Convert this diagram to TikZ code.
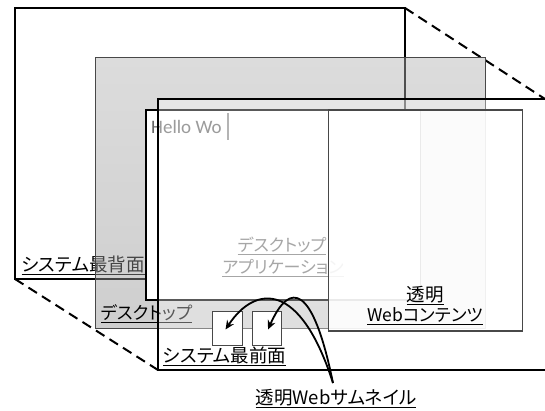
\documentclass[tikz,border=0pt]{standalone}
\usepackage{fontspec}
\setmainfont{Noto Sans CJK JP}[RawFeature=+palt]
\newfontfamily\hellofont{Carlito}
\usetikzlibrary{arrows.meta}
\definecolor{appgray}{HTML}{777777}
\definecolor{hellogray}{HTML}{666666}
\definecolor{edgegray}{HTML}{484848}
\newcommand\ulx[1]{\setbox0=\hbox{#1}\rlap{\rule[-3.8pt]{\wd0}{1.2pt}}\box0}
\begin{document}
\begin{tikzpicture}[x=1pt,y=-1pt,
  lbl/.style={anchor=base west,inner sep=0pt,font=\fontsize{18.5}{21}\selectfont},
  clbl/.style={anchor=base,inner sep=0pt,font=\fontsize{18.5}{21}\selectfont},
  layeredge/.style={line width=1.2pt,draw=black},
  dashline/.style={line width=2pt,dash pattern=on 10pt off 6pt},
  thumb/.style={draw=edgegray,line width=1pt,fill=white,minimum width=29.5pt,minimum height=33.5pt,inner sep=0pt},
  curvearrow/.style={line width=1.8pt,-{Stealth[length=9pt,width=8pt]}}]
\useasboundingbox (0,0) rectangle (545,410);
\fill[white] (0,0) rectangle (545,410);
% back layer
\draw[layeredge,fill=white] (15,8) rectangle (405,279);
\node[lbl] (backlbl) at (21.5,271) {\ulx{システム最背面}};
% dashed connectors
\coordinate (bk1) at (405,8);
\coordinate (fr1) at (545,99);
\coordinate (bk2) at (15,279);
\coordinate (fr2) at (158,370);
\draw[dashline] (bk1) -- (fr1);
\draw[dashline] (bk2) -- (fr2);
% desktop layer
\draw[draw=edgegray,line width=1pt,top color=black!30,bottom color=black!42,fill opacity=0.45] (95.5,57.5) rectangle (485,328);
\node[lbl,font=\fontsize{17.5}{20}\selectfont] (desklbl) at (101,319.5) {\ulx{デスクトップ}};
% desktop application window
\draw[layeredge,fill=white] (146,110) rectangle (420.5,300);
\node[anchor=base west,inner sep=0pt,text=hellogray,font=\hellofont\fontsize{19}{21}\selectfont] (hello) at (151,133) {Hello Wo};
\draw[draw=black!45,line width=1.5pt] (228,113) -- (228,140);
\node[clbl,text=appgray,font=\fontsize{17}{20}\selectfont] (app1) at (282,251.5) {\ulx{デスクトップ}};
\node[clbl,text=appgray,font=\fontsize{17}{20}\selectfont] (app2) at (283,273) {\ulx{アプリケーション}};
% front layer
\draw[layeredge,fill=white,fill opacity=0.35] (158,99) rectangle (547,370);
\node[lbl] (frontlbl) at (163,362.5) {\ulx{システム最前面}};
\node[thumb] (th1) at (227.5,328.5) {};
\node[thumb] (th2) at (267,328.5) {};
% transparent web content
\draw[draw=edgegray,line width=1.2pt,fill=white,fill opacity=0.88] (328.5,110) rectangle (522.5,331);
\node[clbl] (web1) at (425,301) {\ulx{透明}};
\node[clbl,font=\fontsize{17.5}{20}\selectfont] (web2) at (425,321.5) {\ulx{Webコンテンツ}};
% thumbnail label and arrows
\node[clbl] (thlbl) at (336,404) {\ulx{透明Webサムネイル}};
\coordinate (src) at (333,383);
\coordinate (tip1) at ([xshift=-2pt,yshift=-1pt]th1.center);
\coordinate (tip2) at ([xshift=1pt,yshift=-1pt]th2.center);
\draw[curvearrow] (src) .. controls (300,280) and (255,285) .. (tip1);
\draw[curvearrow] (src) .. controls (313,285) and (290,280) .. (tip2);
\end{tikzpicture}
\end{document}
